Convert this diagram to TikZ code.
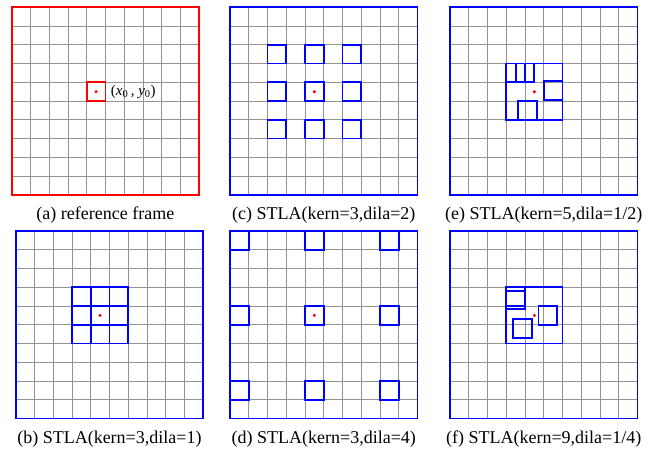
\documentclass[tikz,border=0pt]{standalone}
\usepackage{fontspec}
\setmainfont{Liberation Serif}
\usetikzlibrary{positioning}

% grid of one frame, drawn inside a scope whose unit is one cell
\newcommand{\framegrid}[1]{%
  \foreach \k in {1,...,9} {
    \draw[gridline] (\k,0) -- (\k,10);
    \draw[gridline] (0,\k) -- (10,\k);
  }
  \draw[#1] (0,0) rectangle (10,10);
}

\begin{document}
\begin{tikzpicture}[
    x=1pt, y=-1pt,
    cell/.style={x=18.75pt, y=-18.75pt},
    gridline/.style={black!42, line width=0.9pt},
    redframe/.style={red, line width=1.8pt},
    blueframe/.style={blue, line width=1.8pt},
    tap/.style={blue, line width=1.8pt},
    centre/.style={circle, fill=red, inner sep=0pt, minimum size=3.4pt},
    caption/.style={font=\fontsize{18}{22}\selectfont, anchor=base}
]
    \useasboundingbox (0,0) rectangle (667,451);

    % (a) reference frame
    \begin{scope}[xshift=11.7pt, yshift=-7.3pt, cell]
        \framegrid{redframe}
        \draw[redframe] (4,4) rectangle (5,5);
        \node[centre] (ctrA) at (4.5,4.5) {};
        \node[anchor=west, font=\fontsize{15}{18}\selectfont] (xyA) at (5.1,4.5)
            {(\textit{x}\textsubscript{0}\,, \textit{y}\textsubscript{0})};
    \end{scope}

    % (c) kern=3, dila=2
    \begin{scope}[xshift=230pt, yshift=-7.3pt, cell]
        \framegrid{blueframe}
        \foreach \i in {2,4,6}
            \foreach \j in {2,4,6}
                \draw[tap] (\i,\j) rectangle ++(1,1);
        \node[centre] (ctrC) at (4.5,4.5) {};
    \end{scope}

    % (e) kern=5, dila=1/2
    \begin{scope}[xshift=450pt, yshift=-7.3pt, cell]
        \framegrid{blueframe}
        \draw[tap] (3,3) rectangle (6,6);
        \draw[tap] (3,3) rectangle ++(1,1);
        \draw[tap] (3.5,3) rectangle ++(1,1);
        \draw[tap] (5,3.95) rectangle ++(1,1);
        \draw[tap] (3.62,5) rectangle ++(1,1);
        \node[centre] (ctrE) at (4.5,4.5) {};
    \end{scope}

    % (b) kern=3, dila=1
    \begin{scope}[xshift=15.7pt, yshift=-231pt, cell]
        \framegrid{blueframe}
        \foreach \i in {3,4,5}
            \foreach \j in {3,4,5}
                \draw[tap] (\i,\j) rectangle ++(1,1);
        \node[centre] (ctrB) at (4.5,4.5) {};
    \end{scope}

    % (d) kern=3, dila=4
    \begin{scope}[xshift=230pt, yshift=-231pt, cell]
        \framegrid{blueframe}
        \foreach \i in {0,4,8}
            \foreach \j in {0,4,8}
                \draw[tap] (\i,\j) rectangle ++(1,1);
        \node[centre] (ctrD) at (4.5,4.5) {};
    \end{scope}

    % (f) kern=9, dila=1/4
    \begin{scope}[xshift=450pt, yshift=-231pt, cell]
        \framegrid{blueframe}
        \draw[tap] (3,3) rectangle (6,6);
        \draw[tap] (3,3) rectangle ++(1,1);
        \draw[tap] (3,3.18) rectangle ++(1,1);
        \draw[tap] (4.72,4) rectangle ++(1,1);
        \draw[tap] (3.38,4.7) rectangle ++(1,1);
        \node[centre] (ctrF) at (4.5,4.5) {};
    \end{scope}

    % captions
    \node[caption] (capA) at (105.4,219) {(a) reference frame};
    \node[caption] (capC) at (323.8,219) {(c) STLA(kern=3,dila=2)};
    \node[caption] (capE) at (543.7,219) {(e) STLA(kern=5,dila=1/2)};
    \node[caption] (capB) at (109.4,443) {(b) STLA(kern=3,dila=1)};
    \node[caption] (capD) at (323.8,443) {(d) STLA(kern=3,dila=4)};
    \node[caption] (capF) at (543.7,443) {(f) STLA(kern=9,dila=1/4)};
\end{tikzpicture}
\end{document}
